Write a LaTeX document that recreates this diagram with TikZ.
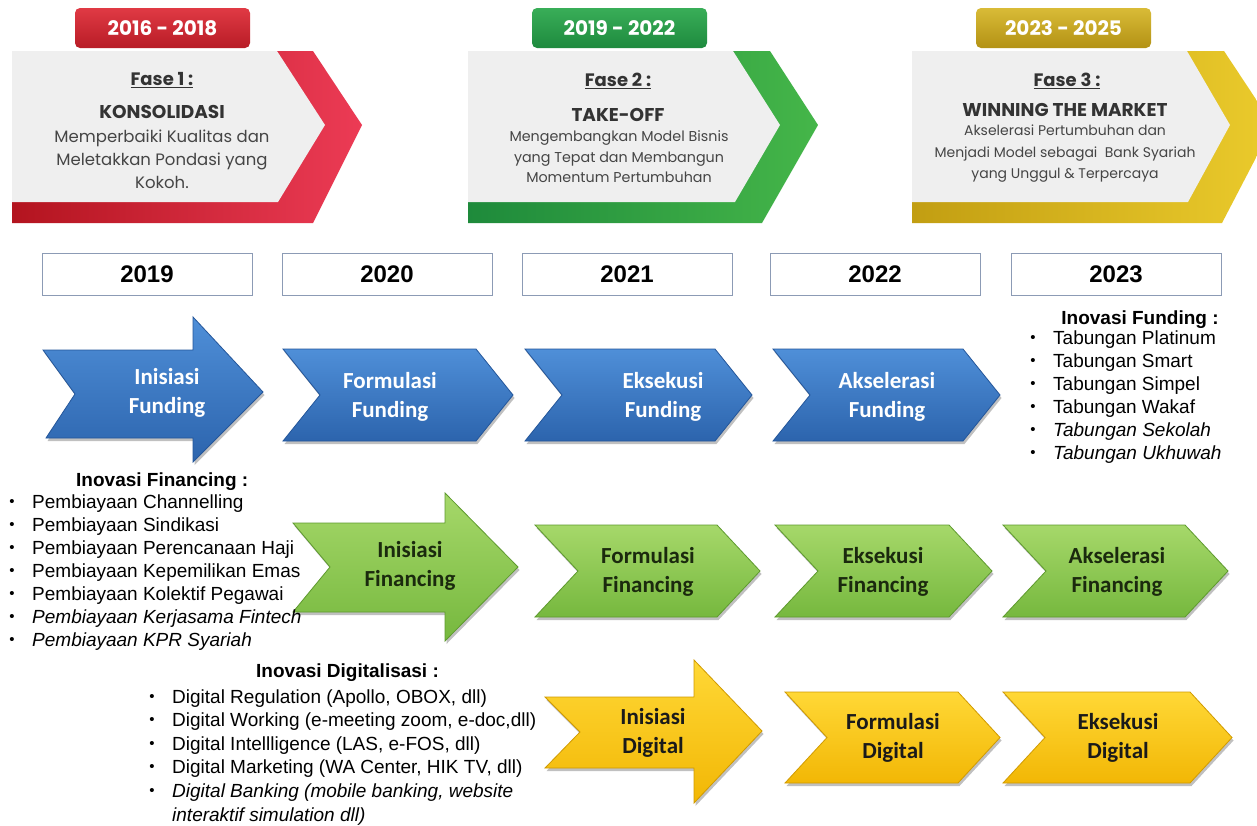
\documentclass[tikz,border=0pt]{standalone}
\usepackage{fontspec}
\setmainfont{Liberation Sans}
\newfontfamily\popfont{Poppins}
\newfontfamily\carlfont{Carlito}
\usetikzlibrary{shadows}
\definecolor{blueT}{HTML}{4F8FD8}
\definecolor{blueB}{HTML}{2C64AD}
\definecolor{blueD}{HTML}{24569A}
\definecolor{greenT}{HTML}{A6D86A}
\definecolor{greenB}{HTML}{76B83E}
\definecolor{greenD}{HTML}{5E9A2E}
\definecolor{yelT}{HTML}{FFD836}
\definecolor{yelB}{HTML}{F2B705}
\definecolor{yelD}{HTML}{D09A00}
\definecolor{redBD}{HTML}{B3141F}
\definecolor{redBL}{HTML}{EC3B55}
\definecolor{grnBD}{HTML}{1E8A3B}
\definecolor{grnBL}{HTML}{45B649}
\definecolor{gldBD}{HTML}{C29E12}
\definecolor{gldBL}{HTML}{EBCB2C}
\definecolor{tabRT}{HTML}{E03A44}
\definecolor{tabRB}{HTML}{B81C26}
\definecolor{tabGT}{HTML}{39AE58}
\definecolor{tabGB}{HTML}{1E8A3E}
\definecolor{tabYT}{HTML}{D9BB37}
\definecolor{tabYB}{HTML}{B39214}
\definecolor{bodyG}{HTML}{EFEFEF}
\definecolor{txtD}{HTML}{333333}
\definecolor{txtB}{HTML}{454545}
\definecolor{yearB}{HTML}{8C9BB5}
\definecolor{grnTxt}{HTML}{1B2A0E}
\definecolor{yelTxt}{HTML}{1A1A1A}
\newcommand\chev[6]{\path[#6] (#1,#3) -- ({#2-#5},#3) -- (#2,{(#3+#4)/2}) -- ({#2-#5},#4) -- (#1,#4) -- ({#1+#5},{(#3+#4)/2}) -- cycle;}
\newcommand\smallbul{{\fontsize{15}{15}\selectfont\textbullet}}
\begin{document}
\begin{tikzpicture}[x=1pt,y=-1pt,
  shad/.style={drop shadow={shadow xshift=1.5pt, shadow yshift=-3pt, opacity=0.35, fill=black!70}},
  bluechev/.style={shad, top color=blueT, bottom color=blueB, draw=blueD, line width=0.8pt},
  greenchev/.style={shad, top color=greenT, bottom color=greenB, draw=greenD, line width=0.8pt},
  yelchev/.style={shad, top color=yelT, bottom color=yelB, draw=yelD, line width=0.8pt},
  arrtxt/.style={align=center, font=\carlfont\bfseries\fontsize{23}{29}\selectfont},
  yearbox/.style={draw=yearB, line width=1pt, fill=white, minimum width=210pt, minimum height=42pt, inner sep=0pt, font=\bfseries\fontsize{24}{26}\selectfont},
  tabbox/.style={rounded corners=5pt, minimum width=175pt, minimum height=40pt, inner sep=0pt, text=white, font=\popfont\bfseries\fontsize{20}{22}\selectfont},
  fase/.style={text=txtD, font=\popfont\bfseries\fontsize{18}{20}\selectfont},
  ftitle/.style={text=txtD, font=\popfont\bfseries\fontsize{#1}{20}\selectfont},
  fbody/.style={text=txtB, align=center, inner sep=0pt},
  listhead/.style={font=\bfseries\fontsize{19}{22}\selectfont, inner sep=0pt},
  listitem/.style={font=\fontsize{19}{22}\selectfont, inner sep=0pt}
]
\useasboundingbox (0,0) rectangle (1257,825);
\fill[white] (0,0) rectangle (1257,825);
\begin{scope}
\clip (0,0) rectangle (1257,825);
% ---- Banner 1
\path[left color=redBD, right color=redBL] (12,51) -- (313,51) -- (362,125) -- (313,223) -- (12,223) -- cycle;
\fill[bodyG] (12,51) -- (277,51) -- (325,125) -- (278,202) -- (12,202) -- cycle;
% ---- Banner 2
\path[left color=grnBD, right color=grnBL] (468,51) -- (770,51) -- (818,125) -- (762,223) -- (468,223) -- cycle;
\fill[bodyG] (468,51) -- (733,51) -- (780,125) -- (735,202) -- (468,202) -- cycle;
% ---- Banner 3
\path[left color=gldBD, right color=gldBL] (912,51) -- (1224,51) -- (1273,125) -- (1222,223) -- (912,223) -- cycle;
\fill[bodyG] (912,51) -- (1187,51) -- (1230,125) -- (1188,202) -- (912,202) -- cycle;
\end{scope}
% tabs
\node[tabbox, top color=tabRT, bottom color=tabRB] (tab1) at (162.5,28) {2016 - 2018};
\node[tabbox, top color=tabGT, bottom color=tabGB] (tab2) at (619.5,28) {2019 - 2022};
\node[tabbox, top color=tabYT, bottom color=tabYB] (tab3) at (1063.5,28) {2023 - 2025};
% banner texts
\node[fase] (f1) at (162,80) {\underline{Fase 1 :}};
\node[ftitle=18.5] (t1) at (162,112) {KONSOLIDASI};
\node[fbody, font=\popfont\fontsize{16.5}{23}\selectfont] (b1) at (162,159) {Memperbaiki Kualitas dan\\Meletakkan Pondasi yang\\Kokoh.};
\node[fase] (f2) at (618,81) {\underline{Fase 2 :}};
\node[ftitle=18.5] (t2) at (618,115) {TAKE-OFF};
\node[fbody, font=\popfont\fontsize{14.3}{20.5}\selectfont] (b2) at (619,157) {Mengembangkan Model Bisnis\\yang Tepat dan Membangun\\Momentum Pertumbuhan};
\node[fase] (f3) at (1067,81) {\underline{Fase 3 :}};
\node[ftitle=18.5] (t3) at (1065,110) {WINNING THE MARKET};
\node[fbody, font=\popfont\fontsize{14}{21.5}\selectfont] (b3) at (1065,154) {Akselerasi Pertumbuhan dan\\Menjadi Model sebagai\ \ Bank Syariah\\yang Unggul \& Terpercaya};
% year boxes
\node[yearbox] (y2019) at (147,274) {2019};
\node[yearbox] (y2020) at (387,274) {2020};
\node[yearbox] (y2021) at (627,274) {2021};
\node[yearbox] (y2022) at (875,274) {2022};
\node[yearbox] (y2023) at (1116,274) {2023};
% blue row
\path[bluechev] (43,350) -- (193,350) -- (193,317) -- (263,392) -- (193,462) -- (193,438) -- (46,438) -- (75,394) -- cycle;
\chev{283}{513}{349}{441}{37}{bluechev}
\chev{525}{752}{349}{441}{37}{bluechev}
\chev{773}{1000}{349}{441}{37}{bluechev}
\node[arrtxt, text=white] (bf1) at (167,393) {Inisiasi\\Funding};
\node[arrtxt, text=white] (bf2) at (390,397) {Formulasi\\Funding};
\node[arrtxt, text=white] (bf3) at (663,397) {Eksekusi\\Funding};
\node[arrtxt, text=white] (bf4) at (887,397) {Akselerasi\\Funding};
% green row
\path[greenchev] (293,523) -- (445,523) -- (445,493) -- (518,567) -- (445,641) -- (445,612) -- (293,612) -- (330,567) -- cycle;
\chev{535}{760}{525}{617}{43}{greenchev}
\chev{775}{992}{525}{617}{43}{greenchev}
\chev{1003}{1228}{525}{617}{43}{greenchev}
\node[arrtxt, text=grnTxt] (gf1) at (410,566) {Inisiasi\\Financing};
\node[arrtxt, text=grnTxt] (gf2) at (648,572) {Formulasi\\Financing};
\node[arrtxt, text=grnTxt] (gf3) at (883,572) {Eksekusi\\Financing};
\node[arrtxt, text=grnTxt] (gf4) at (1117,572) {Akselerasi\\Financing};
% yellow row
\path[yelchev] (545,697) -- (694,697) -- (694,660) -- (762,731) -- (694,803) -- (694,768) -- (545,768) -- (580,732) -- cycle;
\chev{785}{1000}{692}{783}{42}{yelchev}
\chev{1003}{1232}{692}{783}{42}{yelchev}
\node[arrtxt, text=yelTxt] (yd1) at (653,733) {Inisiasi\\Digital};
\node[arrtxt, text=yelTxt] (yd2) at (893,738) {Formulasi\\Digital};
\node[arrtxt, text=yelTxt] (yd3) at (1118,738) {Eksekusi\\Digital};
% funding list
\node[listhead, anchor=base] (fundhead) at (1140,324) {Inovasi Funding :};
\foreach \t [count=\i] in {Tabungan Platinum, Tabungan Smart, Tabungan Simpel, Tabungan Wakaf, {\itshape Tabungan Sekolah}, {\itshape Tabungan Ukhuwah}} {
  \node[listitem, anchor=base west] (fund\i) at (1053,{344+23*(\i-1)}) {\t};
  \node[listitem, anchor=base] (fundb\i) at (1033,{342+23*(\i-1)}) {\smallbul};
}
% financing list
\node[listhead, anchor=base west] (finhead) at (76,486) {Inovasi Financing :};
\foreach \t [count=\i] in {Pembiayaan Channelling, Pembiayaan Sindikasi, Pembiayaan Perencanaan Haji, Pembiayaan Kepemilikan Emas, Pembiayaan Kolektif Pegawai, {\itshape Pembiayaan Kerjasama Fintech}, {\itshape Pembiayaan KPR Syariah}} {
  \node[listitem, anchor=base west] (fin\i) at (32,{508+23*(\i-1)}) {\t};
  \node[listitem, anchor=base] (finb\i) at (12,{506+23*(\i-1)}) {\smallbul};
}
% digital list
\node[listhead, anchor=base west] (dighead) at (256,677) {Inovasi Digitalisasi :};
\foreach \t [count=\i] in {{Digital Regulation (Apollo, OBOX, dll)}, {Digital Working (e-meeting zoom, e-doc,dll)}, {Digital Intellligence (LAS, e-FOS, dll)}, {Digital Marketing (WA Center, HIK TV, dll)}, {\itshape Digital Banking (mobile banking, website}} {
  \node[listitem, anchor=base west] (dig\i) at (172,{703+23.6*(\i-1)}) {\t};
  \node[listitem, anchor=base] (digb\i) at (152,{701+23.6*(\i-1)}) {\smallbul};
}
\node[listitem, anchor=base west, font=\itshape\fontsize{19}{22}\selectfont] (dig6) at (172,{703+23.6*5}) {interaktif simulation dll)};
\end{tikzpicture}
\end{document}
